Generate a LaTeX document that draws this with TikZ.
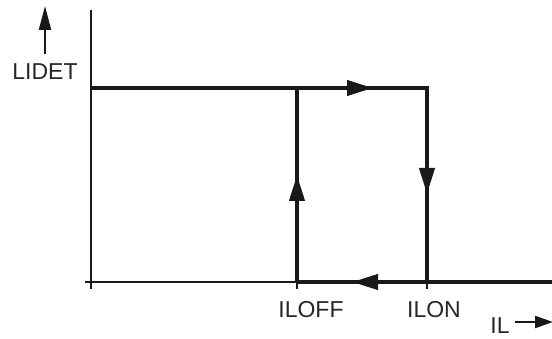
\documentclass[tikz,border=0pt]{standalone}
\usepackage{fontspec}
\setmainfont{Liberation Sans}
\usetikzlibrary{arrows.meta}
\begin{document}
\begin{tikzpicture}[x=1pt,y=-1pt,
  axisline/.style={line width=2.2pt,color=black!90},
  loopline/.style={line width=4pt,color=black!90},
  midarrow/.style={-{Triangle[length=26pt,width=15pt]},line width=4pt,color=black!90},
  yarrow/.style={-{Triangle[length=24pt,width=12pt]},line width=2.2pt,color=black!90},
  xarrow/.style={-{Triangle[length=18pt,width=12pt]},line width=2.2pt,color=black!90},
  lbl/.style={font=\fontsize{23}{26}\selectfont,color=black!85,inner sep=0pt}]
\useasboundingbox (0,0) rectangle (552,339);
% coordinates
\coordinate (yt) at (91,10);
\coordinate (yb) at (91,289);
\coordinate (xl) at (85,282);
\coordinate (tl) at (91,88);
\coordinate (offtop) at (297,88);
\coordinate (ontop) at (427,88);
\coordinate (offbot) at (297,282);
\coordinate (onbot) at (427,282);
\coordinate (xr) at (552,282);
\coordinate (offtick) at (297,289);
\coordinate (ontick) at (427,289);
\coordinate (topbase) at (345,88);
\coordinate (toptip) at (373,88);
\coordinate (upbase) at (297,202);
\coordinate (uptip) at (297,175);
\coordinate (downbase) at (427,166);
\coordinate (downtip) at (427,194);
\coordinate (botbase) at (380,282);
\coordinate (bottip) at (352,282);
% axes
\draw[axisline] (yt) -- (yb);
\draw[axisline] (xl) -- (offbot);
\draw[axisline] (offbot) -- (offtick);
\draw[axisline] (onbot) -- (ontick);
% loop
\draw[loopline] (tl) -- (ontop) -- (onbot);
\draw[loopline] (offbot) -- (offtop);
\draw[loopline] (xr) -- (offbot);
\draw[midarrow] (topbase) -- (toptip);
\draw[midarrow] (downbase) -- (downtip);
\draw[midarrow] (upbase) -- (uptip);
\draw[midarrow] (botbase) -- (bottip);
% labels
\node[lbl] (lidet) at (45,72) {LIDET};
\coordinate (ya0) at (45,54);
\coordinate (ya1) at (45,6);
\draw[yarrow] (ya0) -- (ya1);
\node[lbl] (iloff) at (311,310) {ILOFF};
\node[lbl] (ilon) at (434,310) {ILON};
\node[lbl] (il) at (500,326) {IL};
\coordinate (xa0) at (515,322);
\coordinate (xa1) at (553,322);
\draw[xarrow] (xa0) -- (xa1);
\end{tikzpicture}
\end{document}
